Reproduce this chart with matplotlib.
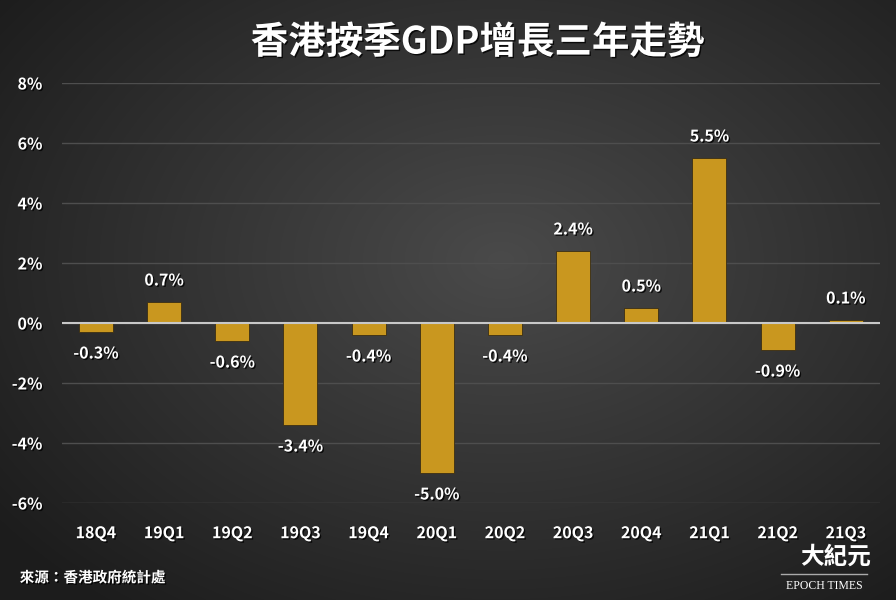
import numpy as np
import matplotlib.pyplot as plt
import matplotlib.patheffects as pe

plt.rcParams['font.family'] = ['Noto Sans CJK TC', 'DejaVu Sans']

quarters = ['18Q4', '19Q1', '19Q2', '19Q3', '19Q4', '20Q1',
            '20Q2', '20Q3', '20Q4', '21Q1', '21Q2', '21Q3']
growth = [-0.3, 0.7, -0.6, -3.4, -0.4, -5.0, -0.4, 2.4, 0.5, 5.5, -0.9, 0.1]
y_ticks = [-6, -4, -2, 0, 2, 4, 6, 8]

fig = plt.figure(figsize=(8.96, 6), dpi=100)

# radial gradient background
bg = fig.add_axes([0, 0, 1, 1])
yy, xx = np.mgrid[0:600, 0:896]
r = np.sqrt(((xx - 500) / 600.0) ** 2 + ((yy - 260) / 420.0) ** 2)
shade = np.clip(0.29 - 0.17 * r, 0.11, 0.29)
bg.imshow(np.dstack([shade, shade, shade]), aspect='auto', extent=[0, 1, 0, 1])
bg.axis('off')

ax = fig.add_axes([0.069, 0.1617, 0.913, 0.70])
ax.patch.set_alpha(0)
shadow = [pe.withSimplePatchShadow(offset=(1, -1), shadow_rgbFace='black', alpha=0.8)]

x = np.arange(len(quarters))
ax.bar(x, growth, width=0.5, color='#c9971f', edgecolor='#3a2e14', linewidth=0.6, zorder=3)
ax.axhline(0, color='#c8c8c8', linewidth=1.5, zorder=4)

for i, v in enumerate(growth):
    if v >= 0:
        ax.text(i, v + 0.45, f'{v:.1f}%', ha='center', va='bottom', color='white',
                fontsize=11.5, fontweight='bold', path_effects=shadow)
    else:
        ax.text(i, v - 0.45, f'{v:.1f}%', ha='center', va='top', color='white',
                fontsize=11.5, fontweight='bold', path_effects=shadow)

ax.set_xlim(-0.5, 11.5)
ax.set_ylim(-6, 8)
ax.set_yticks(y_ticks)
ax.set_yticklabels([f'{t}%' for t in y_ticks])
ax.set_xticks(x)
ax.set_xticklabels(quarters)
ax.grid(axis='y', color='#4e4e4e', linewidth=1, zorder=0)
for s in ax.spines.values():
    s.set_visible(False)
ax.tick_params(length=0, colors='white', labelsize=11.5)
ax.tick_params(axis='x', pad=16)
ax.tick_params(axis='y', pad=14)
for lbl in ax.get_xticklabels() + ax.get_yticklabels():
    lbl.set_fontweight('bold')
    lbl.set_path_effects(shadow)

fig.text(0.533, 0.93, '香港按季GDP增長三年走勢', ha='center', va='center', color='white',
         fontsize=27, fontweight='bold', path_effects=shadow)
fig.text(0.022, 0.038, '來源：香港政府統計處', ha='left', va='center', color='white',
         fontsize=10.5, fontweight='bold', path_effects=shadow)

fig.text(0.933, 0.072, '大紀元', ha='center', va='center', color='white',
         fontsize=17, fontweight='bold', family=['Noto Sans CJK TC'])
fig.add_artist(plt.Line2D([0.872, 0.968], [0.044, 0.044], color='#aaaaaa', linewidth=1))
fig.text(0.92, 0.024, 'EPOCH TIMES', ha='center', va='center', color='white',
         fontsize=8.5, family=['Liberation Serif'])

fig.savefig('out.png', dpi=100)
